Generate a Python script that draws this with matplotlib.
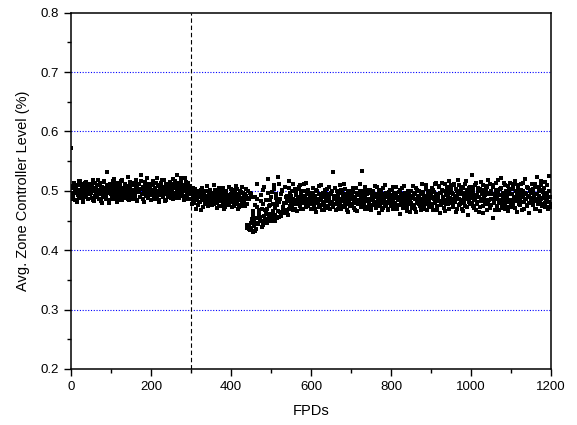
import numpy as np
import matplotlib
matplotlib.use("Agg")
import matplotlib.pyplot as plt
from matplotlib.ticker import MultipleLocator

plt.rcParams['font.family'] = ['Liberation Sans', 'DejaVu Sans']

# avg. zone controller level in thousandths of a percent
# even FPDs: 0, 2, 4, ... 1198
zcl_even_milli = [
    572, 493, 508, 486, 514, 497, 503, 481, 510, 495, 489, 517, 500, 492, 506, 484, 511, 498, 490, 515, 502, 487, 509, 495, 504,
    512, 488, 499, 518, 483, 505, 494, 510, 491, 502, 486, 513, 497, 507, 480, 500, 516, 493, 504, 489, 531, 496, 508, 485, 501,
    498, 511, 487, 503, 520, 492, 506, 482, 514, 499, 490, 509, 495, 517, 485, 503, 497, 512, 488, 505, 493, 524, 500, 484, 508,
    490, 514, 502, 486, 509, 496, 519, 483, 505, 498, 511, 489, 503, 527, 494, 507, 481, 500, 515, 492, 506, 488, 512, 497, 504,
    485, 510, 499, 516, 491, 503, 487, 521, 496, 508, 482, 505, 493, 513, 500, 489, 518, 495, 507, 484, 511, 498, 503, 490, 515,
    501, 494, 520, 487, 509, 497, 513, 492, 526, 503, 488, 511, 499, 517, 494, 506, 485, 522, 500, 510, 493, 514, 504, 497, 508,
    487, 478, 499, 492, 483, 503, 470, 494, 488, 500, 481, 496, 467, 490, 505, 485, 493, 477, 499, 486, 491, 474, 497, 482, 502,
    489, 476, 495, 484, 509, 480, 492, 471, 498, 487, 483, 500, 475, 493, 488, 504, 479, 491, 472, 497, 485, 490, 478, 506, 486,
    494, 473, 489, 501, 481, 496, 477, 487, 503, 470, 492, 484, 498, 476, 507, 488, 480, 495, 474, 491, 437, 499, 442, 486, 434,
    495, 452, 431, 466, 447, 489, 436, 472, 512, 444, 461, 456, 483, 449, 439, 478, 507, 453, 468, 463, 445, 520, 475, 455, 485,
    461, 498, 452, 466, 510, 459, 488, 476, 454, 524, 481, 464, 494, 458, 502, 471, 479, 463, 467, 490, 483, 460, 505, 470, 496,
    480, 499, 468, 511, 485, 478, 493, 466, 503, 488, 481, 509, 469, 495, 484, 470, 500, 489, 479, 514, 486, 475, 497, 482, 491,
    470, 495, 483, 504, 476, 490, 465, 499, 486, 479, 508, 473, 492, 484, 468, 497, 481, 502, 475, 489, 494, 471, 506, 485, 478,
    496, 482, 532, 474, 491, 487, 467, 500, 480, 493, 476, 510, 485, 469, 497, 483, 490, 472, 503, 478, 488, 464, 495, 481, 499,
    477, 492, 486, 505, 471, 489, 480, 497, 466, 494, 483, 511, 475, 488, 534, 479, 499, 470, 491, 485, 502, 473, 487, 481, 496,
    468, 490, 484, 500, 477, 493, 474, 507, 482, 488, 463, 496, 479, 502, 486, 471, 494, 481, 509, 476, 489, 467, 498, 484, 492,
    475, 501, 487, 469, 495, 480, 506, 473, 490, 484, 498, 461, 492, 478, 504, 486, 472, 497, 481, 489, 466, 500, 477, 493, 483,
    499, 471, 488, 508, 476, 494, 465, 485, 502, 479, 491, 474, 497, 483, 512, 470, 490, 486, 477, 503, 468, 495, 482, 489, 500,
    478, 505, 489, 467, 498, 483, 514, 474, 493, 486, 508, 462, 496, 481, 502, 490, 471, 511, 485, 477, 499, 492, 516, 469, 488,
    503, 480, 495, 472, 509, 487, 464, 500, 491, 518, 476, 494, 483, 506, 470, 497, 489, 512, 474, 486, 501, 459, 495, 482, 507,
    488, 527, 475, 499, 485, 510, 468, 493, 481, 504, 490, 473, 515, 486, 497, 462, 502, 479, 493, 508, 477, 519, 484, 496, 471,
    500, 487, 455, 506, 480, 494, 513, 474, 489, 498, 467, 503, 485, 521, 477, 492, 483, 509, 470, 496, 488, 466, 501, 484, 514,
    479, 495, 507, 472, 490, 517, 483, 498, 464, 504, 487, 476, 511, 493, 481, 499, 469, 520, 486, 495, 474, 505, 490, 463, 502,
    488, 512, 476, 497, 483, 506, 470, 494, 523, 481, 499, 466, 509, 487, 478, 501, 492, 473, 515, 485, 496, 469, 525, 482, 473,
]
# odd FPDs: 1, 3, 5, ... 1199
zcl_odd_milli = [
    496, 505, 490, 511, 499, 484, 507, 502, 493, 516, 488, 501, 509, 495, 482, 504, 498, 513, 491, 506, 500, 487, 512, 494, 503,
    497, 508, 485, 501, 514, 492, 504, 489, 519, 499, 495, 510, 483, 506, 498, 490, 515, 502, 487, 509, 496, 503, 480, 512, 494,
    505, 491, 516, 498, 487, 509, 502, 495, 513, 484, 500, 507, 492, 518, 497, 504, 489, 511, 499, 494, 508, 486, 502, 515, 493,
    509, 497, 488, 514, 501, 492, 506, 485, 511, 498, 503, 490, 517, 495, 507, 486, 500, 512, 493, 504, 522, 489, 499, 508, 496,
    502, 493, 511, 487, 505, 498, 514, 491, 500, 509, 485, 503, 496, 518, 490, 506, 499, 483, 512, 497, 504, 492, 509, 501, 488,
    511, 499, 505, 493, 516, 488, 507, 501, 496, 513, 490, 504, 521, 498, 509, 492, 506, 500, 515, 487, 503, 511, 495, 507, 499,
    494, 486, 505, 479, 491, 497, 484, 500, 476, 489, 495, 482, 502, 488, 473, 496, 491, 480, 499, 485, 508, 478, 493, 487, 481,
    496, 483, 490, 477, 501, 486, 494, 480, 489, 504, 474, 492, 485, 498, 481, 495, 469, 488, 500, 483, 493, 476, 491, 487, 503,
    482, 498, 486, 475, 493, 489, 508, 479, 495, 484, 472, 500, 488, 481, 497, 474, 491, 486, 503, 478, 443, 488, 435, 496, 446,
    438, 490, 459, 441, 476, 433, 454, 486, 445, 467, 459, 452, 493, 470, 442, 501, 457, 448, 484, 470, 461, 496, 453, 476, 450,
    489, 458, 478, 503, 449, 471, 495, 482, 466, 512, 456, 486, 460, 499, 473, 462, 468, 506, 479, 492, 465, 488, 517, 475, 484,
    492, 473, 487, 481, 503, 469, 496, 484, 478, 507, 490, 475, 499, 483, 492, 480, 511, 487, 472, 495, 485, 502, 477, 490, 486,
    488, 477, 497, 482, 470, 492, 501, 479, 486, 473, 495, 484, 510, 476, 490, 481, 467, 498, 487, 474, 503, 483, 491, 469, 494,
    481, 499, 473, 488, 505, 478, 492, 484, 470, 496, 487, 479, 502, 474, 491, 485, 512, 477, 494, 482, 468, 499, 486, 475, 490,
    491, 474, 498, 482, 488, 467, 504, 485, 477, 493, 480, 500, 472, 489, 484, 496, 476, 507, 483, 470, 494, 487, 479, 502, 473,
    485, 497, 476, 490, 482, 508, 471, 494, 486, 479, 500, 474, 491, 467, 488, 505, 483, 475, 496, 480, 492, 470, 487, 501, 478,
    493, 482, 506, 474, 488, 479, 497, 469, 490, 485, 476, 502, 481, 494, 471, 489, 508, 477, 486, 495, 473, 491, 484, 464, 499,
    480, 492, 475, 497, 486, 470, 504, 482, 489, 477, 500, 486, 468, 494, 481, 498, 475, 491, 509, 483, 479, 496, 472, 488, 493,
    492, 474, 501, 486, 511, 479, 495, 468, 489, 506, 483, 497, 476, 513, 488, 480, 500, 466, 493, 485, 507, 477, 496, 482, 510,
    486, 497, 476, 512, 491, 481, 503, 470, 494, 487, 509, 478, 499, 485, 466, 505, 480, 492, 516, 473, 496, 488, 504, 477, 491,
    498, 480, 506, 471, 493, 486, 514, 477, 500, 489, 465, 503, 483, 495, 510, 474, 491, 485, 499, 468, 506, 481, 494, 512, 487,
    476, 495, 509, 483, 490, 467, 502, 486, 518, 479, 493, 484, 505, 471, 497, 488, 513, 476, 500, 482, 492, 508, 473, 495, 485,
    494, 503, 480, 512, 487, 471, 499, 491, 509, 477, 495, 484, 502, 468, 490, 514, 481, 497, 486, 476, 506, 492, 479, 500, 485,
    497, 481, 503, 490, 469, 511, 486, 495, 478, 507, 491, 484, 517, 475, 498, 488, 505, 479, 493, 486, 510, 472, 500, 489, 478,
]
fpd_even = np.arange(len(zcl_even_milli)) * 2
fpd_odd = np.arange(len(zcl_odd_milli)) * 2 + 1
fpds = np.concatenate([fpd_even, fpd_odd])
zcl = np.concatenate([zcl_even_milli, zcl_odd_milli]) / 1000.0

grid_levels = [0.3, 0.4, 0.5, 0.6, 0.7]
marker_fpd = 300

fig = plt.figure(figsize=(5.77, 4.25), dpi=100)
ax = fig.add_axes([0.123, 0.132, 0.832, 0.838])

for g in grid_levels:
    ax.axhline(g, color='#0000ff', ls=(0, (1, 1.5)), lw=0.8, zorder=1)
ax.axvline(marker_fpd, color='k', ls=(0, (4, 2.5)), lw=0.8, zorder=1)

ax.plot(fpds, zcl, 's', color='k', ms=2.4, mew=0, zorder=3)

ax.set_xlim(0, 1200)
ax.set_ylim(0.2, 0.8)
ax.xaxis.set_major_locator(MultipleLocator(200))
ax.xaxis.set_minor_locator(MultipleLocator(100))
ax.yaxis.set_major_locator(MultipleLocator(0.1))
ax.yaxis.set_minor_locator(MultipleLocator(0.05))
ax.tick_params(which='both', direction='out', labelsize=9.5)
ax.tick_params(which='major', length=5, width=1)
ax.tick_params(which='minor', length=3, width=1)
for s in ax.spines.values():
    s.set_linewidth(1.1)

ax.set_xlabel('FPDs', fontsize=10.5, labelpad=8)
ax.set_ylabel('Avg. Zone Controller Level (%)', fontsize=10.5, labelpad=8)

fig.savefig('out.png', dpi=100)
